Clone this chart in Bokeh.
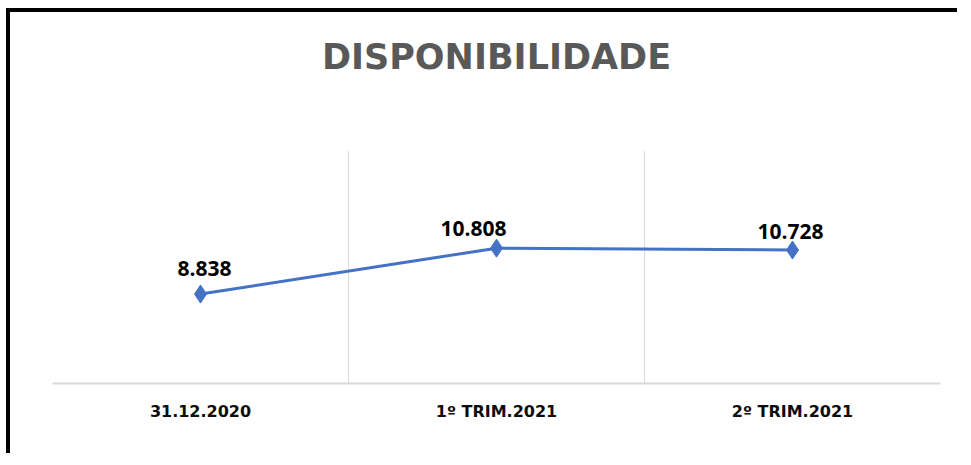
from bokeh.plotting import figure
from bokeh.models import ColumnDataSource, FixedTicker, Range1d, Title
from bokeh.core.properties import value
from bokeh.embed import file_html
from bokeh.resources import INLINE

# ---- data ----
title_text = "DISPONIBILIDADE"
categories = ["31.12.2020", "1º TRIM.2021", "2º TRIM.2021"]
values = [8838, 10808, 10728]
value_labels = ["8.838", "10.808", "10.728"]

# label nudges (styling only)
label_dx = [4, -23, -2]
label_dy = [26, 20, 19]

xs = [i + 0.5 for i in range(len(categories))]

src = ColumnDataSource(dict(x=xs, y=values, lab=value_labels,
                            dx=label_dx, dy=[-d for d in label_dy]))

p = figure(width=951, height=445, output_backend="svg", toolbar_location=None,
           x_range=Range1d(0, len(categories)), y_range=Range1d(5000, 15000),
           min_border_left=42, min_border_right=21, min_border_bottom=74,
           min_border_top=138)
p.styles = {"border-top": "4px solid #000", "border-left": "4px solid #000",
            "margin-left": "6px", "margin-top": "8px"}

# main title (outermost panel)
p.title.text = title_text
p.title.align = "center"
p.title.text_font = "DejaVu Sans"
p.title.text_font_style = "bold"
p.title.text_font_size = "35px"
p.title.text_color = "#595959"
p.title.standoff = 0

# spacer between the title and the plot area
p.add_layout(Title(text=" ", text_font_size="10px", standoff=61), "above")

p.outline_line_color = None
p.background_fill_color = "white"
p.border_fill_color = "white"

p.line("x", "y", source=src, line_color="#4472C4", line_width=3)
p.scatter("x", "y", source=src, marker="diamond", size=18,
          fill_color="#4472C4", line_color="#4472C4")
p.text("x", "y", text="lab", source=src, x_offset="dx", y_offset="dy",
       text_align="center", text_baseline="alphabetic",
       text_font_size="21px", text_font_style="bold", text_color="#000000",
       text_font=value("Open Sans"))

# axes
p.yaxis.visible = False
p.ygrid.visible = False
p.xgrid.ticker = FixedTicker(ticks=list(range(len(categories) + 1)))
p.xgrid.grid_line_color = "#d9d9d9"
p.xgrid.grid_line_width = 1

ax = p.xaxis[0]
ax.ticker = FixedTicker(ticks=xs)
ax.major_label_overrides = {x: c for x, c in zip(xs, categories)}
ax.axis_line_color = "#d9d9d9"
ax.axis_line_width = 2
ax.major_tick_line_color = None
ax.minor_tick_line_color = None
ax.major_label_text_font = "DejaVu Sans"
ax.major_label_text_font_style = "bold"
ax.major_label_text_font_size = "16px"
ax.major_label_text_color = "#0d0d0d"
ax.major_label_standoff = 12

open("out.html", "w").write(file_html(p, INLINE))
